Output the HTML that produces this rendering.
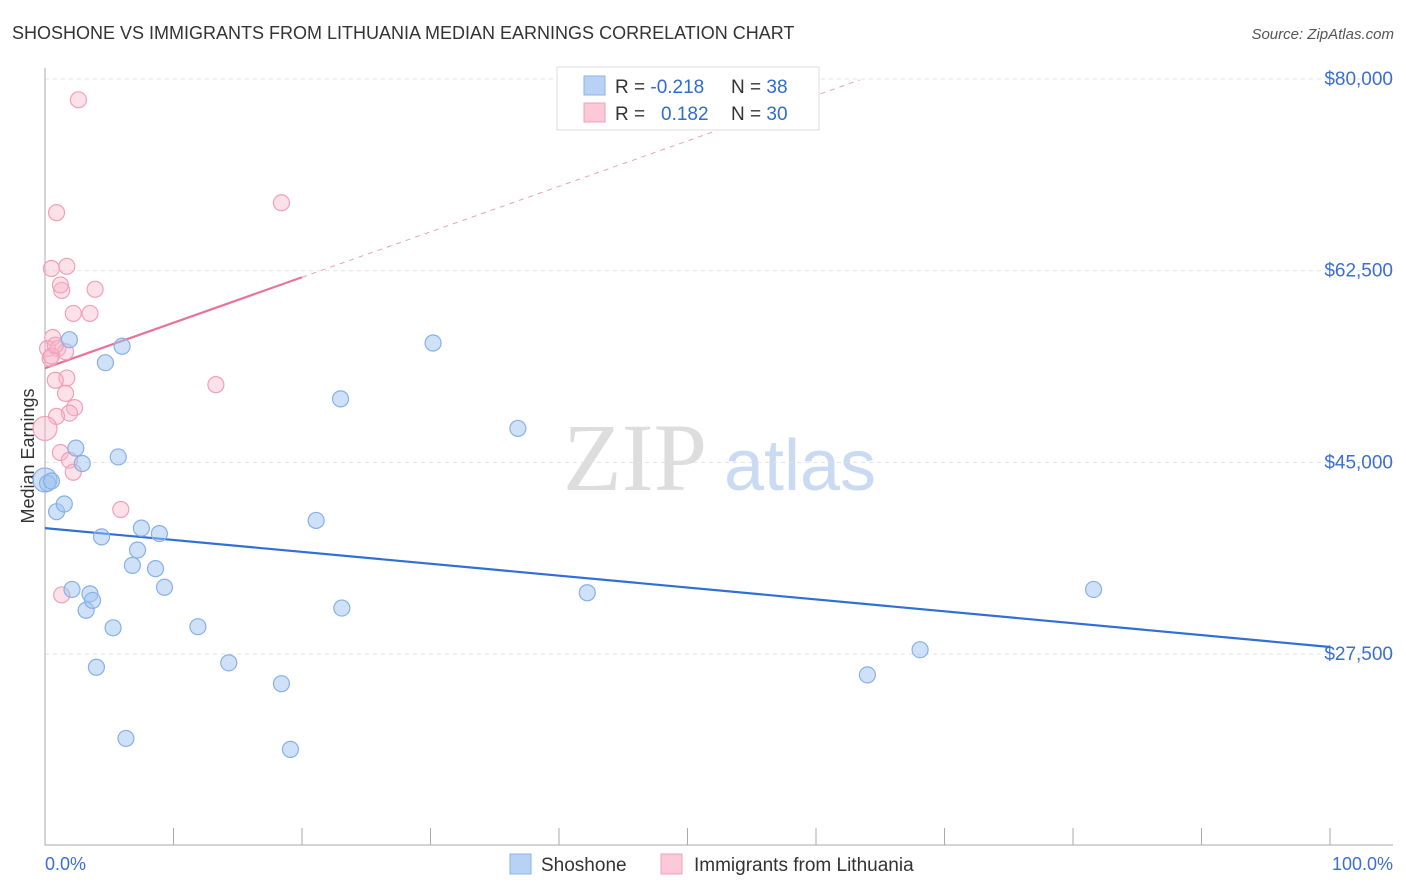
<!DOCTYPE html>
<html><head><meta charset="utf-8"><style>
body{margin:0;background:#fff;font-family:"Liberation Sans",sans-serif;}
svg{display:block}
</style></head><body>
<svg id="chart" width="1406" height="892" xmlns="http://www.w3.org/2000/svg">
<text x="12" y="39" font-size="18" fill="#333">SHOSHONE VS IMMIGRANTS FROM LITHUANIA MEDIAN EARNINGS CORRELATION CHART</text>
<text x="1394" y="39" font-size="15" fill="#555" font-style="italic" text-anchor="end">Source: ZipAtlas.com</text>
<text transform="translate(34,456) rotate(-90)" font-size="18" fill="#333" text-anchor="middle">Median Earnings</text>
<g><text x="635" y="490" font-size="96" fill="#ddd" font-family="Liberation Serif,serif" text-anchor="middle">ZIP</text><text x="800" y="490" font-size="72" fill="#c9daf2" text-anchor="middle">atlas</text></g>
<g id="grid"></g><g id="trends"></g><g id="pts"></g>
<g>
<rect x="557" y="67" width="262" height="63" fill="#fff" stroke="#ddd"/>
<rect x="584" y="76" width="21" height="19" fill="#b8d2f6" stroke="#8ab4ea"/>
<rect x="584" y="103" width="21" height="19" fill="#fbc9d7" stroke="#f0a0b8"/>
<text x="615" y="93" font-size="19" fill="#333">R = <tspan fill="#2f6bd0">-0.218</tspan><tspan x="731">N = </tspan><tspan fill="#2f6bd0">38</tspan></text>
<text x="615" y="120" font-size="19" fill="#333">R = <tspan x="661" fill="#2f6bd0">0.182</tspan><tspan x="731">N = </tspan><tspan fill="#2f6bd0">30</tspan></text>
</g>
<g>
<rect x="510" y="854" width="21" height="20" fill="#b8d2f6" stroke="#8ab4ea"/>
<text x="541" y="871" font-size="19" fill="#333">Shoshone</text>
<rect x="661" y="854" width="21" height="20" fill="#fbc9d7" stroke="#f0a0b8"/>
<text x="694" y="871" font-size="19" fill="#333">Immigrants from Lithuania</text>
</g>
<text x="45" y="870" font-size="18" fill="#3a6fd0">0.0%</text>
<text x="1393" y="870" font-size="18" fill="#3a6fd0" text-anchor="end">100.0%</text>
</svg>
<script>
const yTicks=[80000,62500,45000,27500];
const yTickLabels=["$80,000","$62,500","$45,000","$27,500"];
const blueX=[0,0.2,0.5,0.9,1.5,1.9,2.4,2.9,2.1,3.2,3.5,3.7,4.0,4.4,4.7,5.3,5.7,6.0,6.3,6.8,7.2,7.5,8.6,8.9,9.3,11.9,14.3,18.4,19.1,21.1,23.0,23.1,30.2,36.8,42.2,64.0,68.1,81.6];
const blueY=[43400,43100,43300,40500,41200,56200,46300,44900,33400,31500,33000,32400,26300,38200,54100,29900,45500,55600,19800,35600,37000,39000,35300,38500,33600,30000,26700,24800,18800,39700,50800,31700,55900,48100,33100,25600,27900,33400];
const pinkX=[2.6,0.9,18.4,0.5,1.7,1.3,3.9,1.2,2.2,3.5,0.6,0.2,1.0,1.6,0.4,13.3,1.7,0.8,1.6,2.3,1.9,0.9,0,1.2,1.9,2.2,5.9,1.3,0.5,0.8];
const pinkY=[78100,67800,68700,62700,62900,60700,60800,61200,58600,58600,56400,55400,55400,55100,54500,52100,52700,52500,51300,50000,49500,49200,48100,45900,45200,44100,40700,32900,54700,55700];
const blueTrend=[39000,28150];
const pinkTrend=[53600,415];
const NS="http://www.w3.org/2000/svg";
const X=v=>45+v*12.85, Y=v=>79+(80000-v)/91.29;
function mk(tag,attrs,parent){const e=document.createElementNS(NS,tag);for(const k in attrs)e.setAttribute(k,attrs[k]);parent.appendChild(e);return e;}
const svg=document.getElementById('chart'),grid=document.getElementById('grid'),tr=document.getElementById('trends'),pts=document.getElementById('pts');
yTicks.forEach((t,i)=>{
 const l=mk('line',{x1:45,x2:1393,y1:Y(t),y2:Y(t),stroke:'#e2e2e2','stroke-dasharray':'4,4'},grid);
 
 
 const tx=mk('text',{x:1393,y:Y(t)+6,'font-size':19,fill:'#3a6fd0','text-anchor':'end'},grid);
 tx.textContent=yTickLabels[i];
 
 
});
const ax=mk('path',{d:'M45,68V845H1393',stroke:'#aaa',fill:'none'},grid);


for(let i=0;i<=10;i++){const t=mk('line',{x1:X(i*10),x2:X(i*10),y1:828,y2:845,stroke:'#aaa'},grid);
 
 }
const bl=mk('line',{x1:X(0),y1:Y(blueTrend[0]),x2:X(100),y2:Y(blueTrend[1]),stroke:'#2f6fd6','stroke-width':2.2},tr);


const pf=x=>pinkTrend[0]+pinkTrend[1]*x;
const ps=mk('line',{x1:X(0),y1:Y(pf(0)),x2:X(20),y2:Y(pf(20)),stroke:'#e8739a','stroke-width':2.2},tr);


const pd=mk('line',{x1:X(20),y1:Y(pf(20)),x2:X(63.4),y2:Y(pf(63.4)),stroke:'#eaa0b8','stroke-width':1,'stroke-dasharray':'5,5'},tr);


pinkX.forEach((x,i)=>{const c=mk('circle',{cx:X(x),cy:Y(pinkY[i]),r:(x===0?12:8),fill:'rgba(248,180,200,0.4)',stroke:'#f0a0b8','stroke-width':1.2},pts);
 
 });
blueX.forEach((x,i)=>{const c=mk('circle',{cx:X(x),cy:Y(blueY[i]),r:(x===0?12:8),fill:'rgba(160,195,240,0.5)',stroke:'#86b0e8','stroke-width':1.2},pts);
 
 });
</script>
</body></html>
